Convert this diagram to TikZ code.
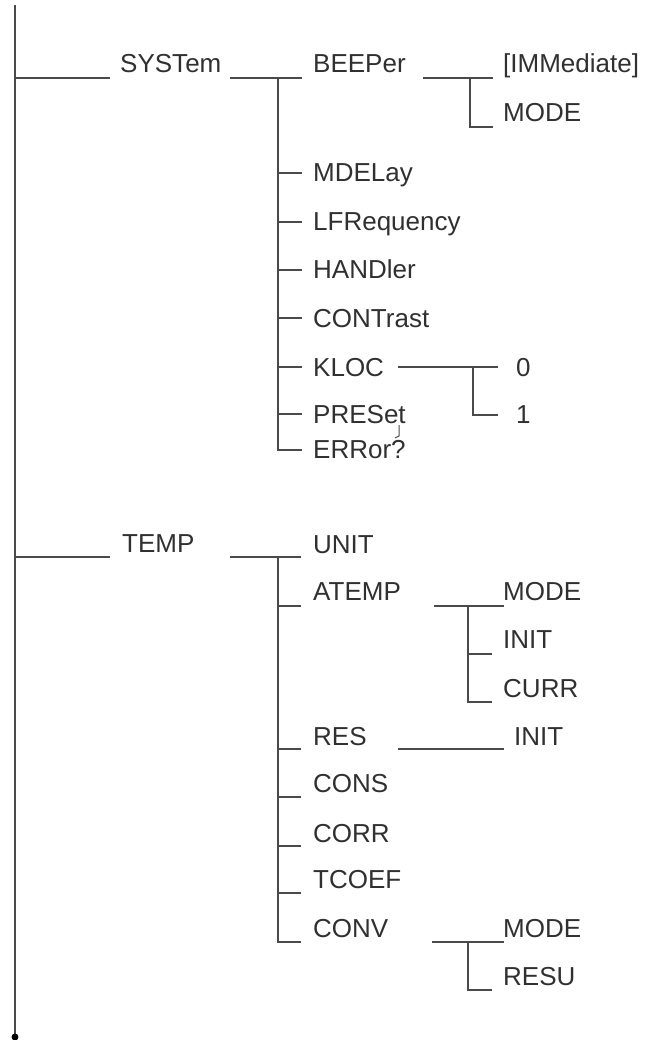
\documentclass[tikz,border=0pt]{standalone}
\usepackage{fontspec}
\setmainfont{Liberation Sans}
\definecolor{txtc}{HTML}{303030}
\definecolor{linec}{HTML}{4A4A4A}
\begin{document}
\begin{tikzpicture}[x=1pt,y=-1pt,
  lbl/.style={anchor=base west, inner sep=0pt, text=txtc, font=\fontsize{26}{30}\selectfont},
  ln/.style={draw=linec, line width=1.6pt}]
\useasboundingbox (0,0) rectangle (645,1040);
% ---------- labels ----------
\node[lbl] (sys)  at (120,73)  {SYSTem};
\node[lbl] (beep) at (313,73)  {BEEPer};
\node[lbl] (imm)  at (503,73)  {[IMMediate]};
\node[lbl] (bmode) at (503,122) {MODE};
\node[lbl] (mdel) at (313,182) {MDELay};
\node[lbl] (lfr)  at (313,231) {LFRequency};
\node[lbl] (hand) at (313,279) {HANDler};
\node[lbl] (cont) at (313,327) {CONTrast};
\node[lbl] (kloc) at (313,376) {KLOC};
\node[lbl] (k0)   at (516,376) {0};
\node[lbl] (k1)   at (516,423) {1};
\node[lbl] (pres) at (313,423) {PRESet};
\node[lbl] (err)  at (313,458) {ERRor?};
\node[lbl] (temp) at (122,552) {TEMP};
\node[lbl] (unit) at (313,553) {UNIT};
\node[lbl] (atmp) at (313,600) {ATEMP};
\node[lbl] (amode) at (503,600) {MODE};
\node[lbl] (ainit) at (503,648) {INIT};
\node[lbl] (acurr) at (503,697) {CURR};
\node[lbl] (res)  at (313,745) {RES};
\node[lbl] (rinit) at (514,745) {INIT};
\node[lbl] (cons) at (313,792) {CONS};
\node[lbl] (corr) at (313,842) {CORR};
\node[lbl] (tcoef) at (313,888) {TCOEF};
\node[lbl] (conv) at (313,937) {CONV};
\node[lbl] (cmode) at (503,937) {MODE};
\node[lbl] (cresu) at (503,985) {RESU};
% ---------- junction coordinates ----------
\coordinate (top) at (15,5);
\coordinate (bot) at (15,1037);
\coordinate (t1) at (15,78);
\coordinate (t2) at (15,557);
% SYSTem branch
\coordinate (s1) at (110,78);
\coordinate (s2) at (230,78);
\coordinate (s3) at (302,78);
\coordinate (sv) at (278,78);
\coordinate (sve) at (278,450);
\coordinate (smd) at (278,173);  \coordinate (smde) at (302,173);
\coordinate (slf) at (278,222);  \coordinate (slfe) at (302,222);
\coordinate (sha) at (278,270);  \coordinate (shae) at (302,270);
\coordinate (sco) at (278,318);  \coordinate (scoe) at (302,318);
\coordinate (skl) at (278,367);  \coordinate (skle) at (302,367);
\coordinate (spr) at (278,414);  \coordinate (spre) at (302,414);
\coordinate (ser) at (302,450);
% BEEPer branch
\coordinate (b1) at (423,78);
\coordinate (b2) at (493,78);
\coordinate (bv) at (470,78);
\coordinate (bc) at (470,127);
\coordinate (be) at (493,127);
% KLOC branch
\coordinate (k1a) at (398,367);
\coordinate (k1b) at (498,367);
\coordinate (kv) at (473,367);
\coordinate (kc) at (473,415);
\coordinate (ke) at (498,415);
% small stray mark
\coordinate (m1) at (399,425);
\coordinate (m2) at (399,436);
\coordinate (m3) at (395,438);
% TEMP branch
\coordinate (p1) at (110,557);
\coordinate (p2) at (230,557);
\coordinate (p3) at (301,557);
\coordinate (pv) at (278,557);
\coordinate (pat) at (278,606);  \coordinate (pate) at (301,606);
\coordinate (pre) at (278,749);  \coordinate (pree) at (301,749);
\coordinate (pcs) at (278,797);  \coordinate (pcse) at (301,797);
\coordinate (pcr) at (278,846);  \coordinate (pcre) at (301,846);
\coordinate (ptc) at (278,893);  \coordinate (ptce) at (301,893);
\coordinate (pcv) at (278,942);  \coordinate (pcve) at (301,942);
% ATEMP branch
\coordinate (a1) at (434,606);
\coordinate (a2) at (504,606);
\coordinate (av) at (468,606);
\coordinate (ai) at (468,654);  \coordinate (aie) at (492,654);
\coordinate (ac) at (468,702);  \coordinate (ace) at (492,702);
% RES branch
\coordinate (r1) at (398,749);
\coordinate (r2) at (504,749);
% CONV branch
\coordinate (c1) at (432,942);
\coordinate (c2) at (504,942);
\coordinate (cv) at (468,942);
\coordinate (cr) at (468,990);  \coordinate (cre) at (492,990);
% ---------- connectors ----------
\draw[ln] (top) -- (bot);
\fill[black] (bot) circle (3.5);
\draw[ln] (t1) -- (s1);
\draw[ln] (s2) -- (s3);
\draw[ln] (sv) -- (sve) -- (ser);
\foreach \a/\b in {smd/smde,slf/slfe,sha/shae,sco/scoe,skl/skle,spr/spre}
  \draw[ln] (\a) -- (\b);
\draw[ln] (b1) -- (b2);
\draw[ln] (bv) -- (bc) -- (be);
\draw[ln] (k1a) -- (k1b);
\draw[ln] (kv) -- (kc) -- (ke);
\draw[draw=linec, line width=1pt] (m1) -- (m2) -- (m3);
\draw[ln] (t2) -- (p1);
\draw[ln] (p2) -- (p3);
\draw[ln] (pv) -- (pcv) -- (pcve);
\foreach \a/\b in {pat/pate,pre/pree,pcs/pcse,pcr/pcre,ptc/ptce}
  \draw[ln] (\a) -- (\b);
\draw[ln] (a1) -- (a2);
\draw[ln] (av) -- (ac) -- (ace);
\draw[ln] (ai) -- (aie);
\draw[ln] (r1) -- (r2);
\draw[ln] (c1) -- (c2);
\draw[ln] (cv) -- (cr) -- (cre);
\end{tikzpicture}
\end{document}
